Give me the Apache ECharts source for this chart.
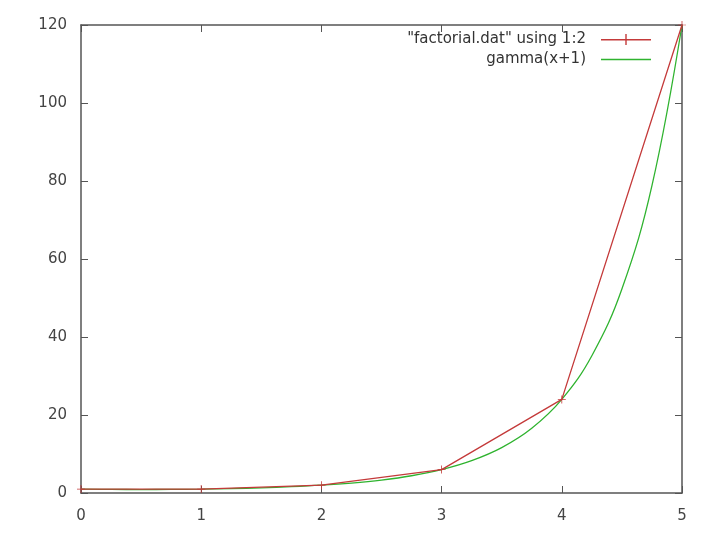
<!DOCTYPE html>
<html><head><meta charset="utf-8">
<script src="https://cdn.jsdelivr.net/npm/echarts@6/dist/echarts.min.js"></script>
<style>html,body{margin:0;padding:0;background:#fff}#c{width:720px;height:540px}</style>
</head><body><div id="c"></div>
<script>
var factX = [0, 1, 2, 3, 4, 5];
var factY = [1, 1, 2, 6, 24, 120];
var gammaX = [0, 0.25, 0.5, 0.75, 1, 1.25, 1.5, 1.75, 2, 2.25, 2.5, 2.75, 3, 3.25, 3.5, 3.75, 4, 4.25, 4.5, 4.75, 5];
var gammaY = [1, 0.91, 0.89, 0.92, 1, 1.13, 1.33, 1.61, 2, 2.55, 3.32, 4.42, 6, 8.29, 11.63, 16.59, 24, 35.2, 52.3, 78.8, 120];
var yTicks = [0, 20, 40, 60, 80, 100, 120];
var xTicks = [0, 1, 2, 3, 4, 5];

var chart = echarts.init(document.getElementById('c'));
var font = {color: '#444', fontSize: 15, fontFamily: 'DejaVu Sans'};
var axisLine = {show: true, onZero: false, lineStyle: {color: '#555', width: 1.5}};
function xa(pos, showLabel) {
  return {type: 'value', position: pos, min: xTicks[0], max: xTicks[xTicks.length-1], interval: 1,
    axisLine: axisLine, axisTick: {inside: true, length: 7, lineStyle: {color: '#555'}},
    axisLabel: Object.assign({show: showLabel, margin: 16}, font), splitLine: {show: false}};
}
function ya(pos, showLabel) {
  return {type: 'value', position: pos, min: yTicks[0], max: yTicks[yTicks.length-1], interval: 20,
    axisLine: axisLine, axisTick: {inside: true, length: 7, lineStyle: {color: '#555'}},
    axisLabel: Object.assign({show: showLabel, margin: 14}, font), splitLine: {show: false}};
}
chart.setOption({
  backgroundColor: '#fff',
  animation: false,
  grid: {left: 81, right: 38, top: 25, bottom: 47},
  xAxis: [xa('bottom', true), xa('top', false)],
  yAxis: [ya('left', true), ya('right', false)],
  legend: {
    orient: 'vertical', right: 64, top: 27, align: 'right', itemGap: 5,
    itemWidth: 50, itemHeight: 12,
    textStyle: {color: '#333', fontSize: 15, fontFamily: 'DejaVu Sans', padding: [0, 10, 0, 0]},
    data: [{name: '"factorial.dat" using 1:2', icon: 'path://M0,5L50,5L50,6.5L0,6.5Z M24.3,0L25.7,0L25.7,11L24.3,11Z'},
           {name: 'gamma(x+1)', icon: 'path://M0,5L50,5L50,6.5L0,6.5Z'}]
  },
  series: [
    {name: '"factorial.dat" using 1:2', type: 'line', xAxisIndex: 0, yAxisIndex: 0,
     data: factX.map(function(x, i){return [x, factY[i]];}),
     symbol: 'path://M0,5L10,5L10,6L0,6Z M4.5,0L5.5,0L5.5,11L4.5,11Z', symbolSize: 8,
     lineStyle: {color: '#c43a3a', width: 1.3}, itemStyle: {color: '#c43a3a'}, color: '#c43a3a', z: 3},
    {name: 'gamma(x+1)', type: 'line', xAxisIndex: 0, yAxisIndex: 0,
     data: gammaX.map(function(x, i){return [x, gammaY[i]];}),
     smooth: 0.4, showSymbol: false, symbol: 'none',
     lineStyle: {color: '#2fb32f', width: 1.3}, itemStyle: {color: '#2fb32f'}, color: '#2fb32f', z: 2}
  ]
});
</script></body></html>
